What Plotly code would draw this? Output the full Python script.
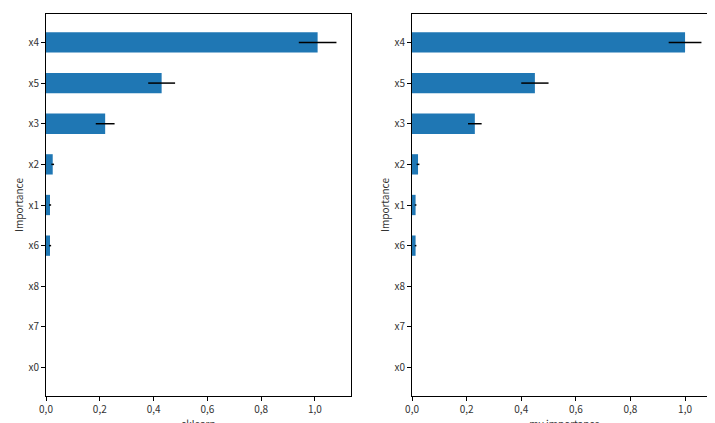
import plotly.graph_objects as go
from plotly.subplots import make_subplots

# features, bottom to top
features = ['x0', 'x7', 'x8', 'x6', 'x1', 'x2', 'x3', 'x5', 'x4']
sk_mean = [0.0, 0.0, 0.0, 0.015, 0.015, 0.025, 0.22, 0.43, 1.01]
sk_err = [0.0, 0.0, 0.0, 0.004, 0.004, 0.005, 0.035, 0.05, 0.07]
my_mean = [0.0, 0.0, 0.0, 0.013, 0.013, 0.022, 0.23, 0.45, 1.0]
my_err = [0.0, 0.0, 0.0, 0.003, 0.003, 0.005, 0.025, 0.05, 0.06]
x_ticks = [0, 0.2, 0.4, 0.6, 0.8, 1.0]
x_labels = ['0,0', '0,2', '0,4', '0,6', '0,8', '1,0']

fig = make_subplots(rows=1, cols=2)

for col, (m, e) in enumerate([(sk_mean, sk_err), (my_mean, my_err)], start=1):
    fig.add_trace(go.Bar(
        y=features, x=m, orientation='h', width=0.5,
        marker=dict(color='#1f77b4', line=dict(width=0)),
        error_x=dict(type='data', array=e, color='black', thickness=1.5, width=0),
    ), row=1, col=col)

axis_style = dict(showline=True, linecolor='black', linewidth=1, mirror=True,
                  showgrid=False, zeroline=False, ticks='outside', ticklen=4,
                  tickcolor='black', tickfont=dict(size=10, color='#333'),
                  automargin=False)

fig.update_xaxes(tickvals=x_ticks, ticktext=x_labels, **axis_style)
fig.update_xaxes(range=[0, 1.134], title_text='sklearn', domain=[0, 0.4545], row=1, col=1)
fig.update_xaxes(range=[0, 1.117], title_text='my importance', domain=[0.5455, 1], row=1, col=2)
fig.update_yaxes(title_text='Importance', range=[-0.7, 8.7], **axis_style)
fig.update_xaxes(title_font=dict(size=10, color='#333'), title_standoff=2)
fig.update_yaxes(title_font=dict(size=10, color='#333'), title_standoff=2)

fig.update_layout(
    width=715, height=423,
    margin=dict(l=38, r=6, t=6, b=35),
    plot_bgcolor='white', paper_bgcolor='white',
    font=dict(family='Noto Sans CJK KR, Noto Sans, sans-serif', size=10),
    showlegend=False, bargap=0.5,
)

fig.write_html("out.html")
